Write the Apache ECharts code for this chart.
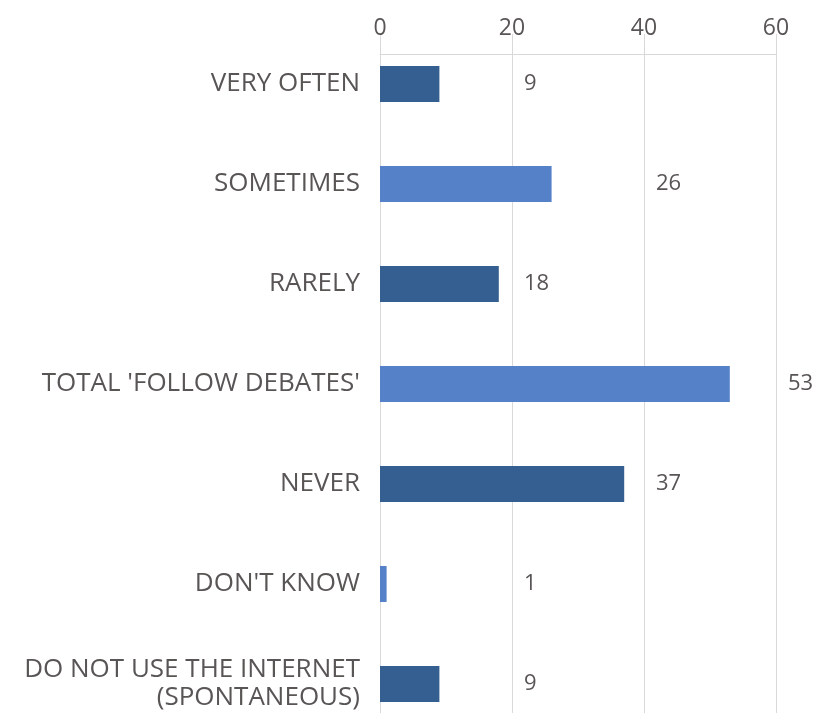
<!DOCTYPE html>
<html>
<head>
<meta charset="utf-8">
<script src="https://cdn.jsdelivr.net/npm/echarts@6/dist/echarts.min.js"></script>
<style>html,body{margin:0;padding:0;background:#fff;overflow:hidden}#c{width:814px;height:734px}</style>
</head>
<body>
<div id="c"></div>
<script>
const categories = ["VERY OFTEN", "SOMETIMES", "RARELY", "TOTAL 'FOLLOW DEBATES'", "NEVER", "DON'T KNOW", "DO NOT USE THE INTERNET\n(SPONTANEOUS)"];
const values = [9, 26, 18, 53, 37, 1, 9];
const tickLabels = [0, 20, 40, 60];

const DARK = '#345f90', LIGHT = '#5581c8';
const FONT = '"Open Sans", "Noto Sans", sans-serif';
const TXT = '#595555';

const chart = echarts.init(document.getElementById('c'), null, {renderer: 'canvas'});

function buildOption(offsets) {
  return {
    animation: false,
    grid: {left: 380, right: 38, top: 34, bottom: 0, containLabel: false},
    xAxis: {
      type: 'value', position: 'top', offset: -20,
      min: tickLabels[0], max: tickLabels[tickLabels.length - 1], interval: 20,
      axisLine: {show: true, lineStyle: {color: '#d9d9d9', width: 1}},
      axisTick: {show: true, length: 8, lineStyle: {color: '#d9d9d9'}},
      axisLabel: {color: TXT, fontSize: 23, fontFamily: FONT, margin: 14},
      splitLine: {show: true, lineStyle: {color: '#d9d9d9', width: 1}}
    },
    yAxis: {
      type: 'category', inverse: true, data: categories,
      axisLine: {show: false}, axisTick: {show: false},
      axisLabel: {color: TXT, fontSize: 26, fontFamily: FONT, margin: 20, lineHeight: 28, align: 'right'}
    },
    series: [{
      type: 'bar', barWidth: 36,
      data: values.map((v, i) => ({
        value: v,
        itemStyle: {color: i % 2 === 0 ? DARK : LIGHT},
        label: {show: true, position: 'right', distance: 0, offset: [offsets ? offsets[i] : 0, 0],
                color: TXT, fontSize: 22, fontFamily: FONT}
      }))
    }]
  };
}

chart.setOption(buildOption(null));
const offsets = values.map(v => {
  const next = Math.ceil(v / 20) * 20;
  const pEnd = chart.convertToPixel({gridIndex: 0}, [v, 0])[0];
  const pGrid = chart.convertToPixel({gridIndex: 0}, [next, 0])[0];
  return pGrid - pEnd + 12;
});
chart.setOption(buildOption(offsets));
</script>
</body>
</html>
